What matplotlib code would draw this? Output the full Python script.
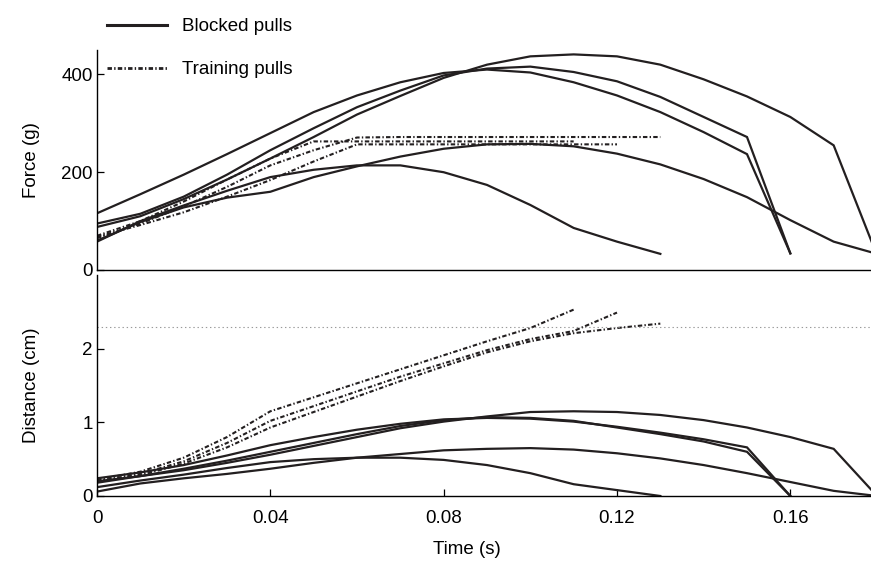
import numpy as np
import matplotlib
matplotlib.use("Agg")
import matplotlib.pyplot as plt
from matplotlib.lines import Line2D

plt.rcParams['font.family'] = ['Liberation Sans', 'DejaVu Sans']
plt.rcParams['lines.scale_dashes'] = False

# time base (s), samples every 10 ms
time = [0.00, 0.01, 0.02, 0.03, 0.04, 0.05, 0.06, 0.07, 0.08, 0.09,
        0.10, 0.11, 0.12, 0.13, 0.14, 0.15, 0.16, 0.17, 0.18]

# force (g) - blocked pulls
force_blocked_a = [88, 110, 145, 185, 228, 272, 318, 356, 393, 420, 437, 441, 437, 420, 390, 355, 313, 255, 30]
force_blocked_b = [95, 115, 150, 195, 245, 290, 333, 367, 398, 412, 416, 405, 386, 354, 313, 272, 34]
force_blocked_c = [116, 155, 195, 237, 280, 323, 357, 384, 403, 410, 404, 384, 357, 323, 282, 237, 34]
force_blocked_d = [60, 98, 128, 148, 160, 190, 212, 232, 248, 257, 258, 253, 238, 216, 186, 149, 102, 58, 33]
force_blocked_e = [58, 100, 132, 162, 190, 205, 214, 214, 200, 174, 133, 86, 58, 33]

# force (g) - training pulls
force_train_1 = [65, 95, 130, 170, 214, 245, 271, 272, 272, 272, 272, 272, 272, 272]
force_train_2 = [70, 100, 140, 185, 228, 263, 263, 263, 263, 263, 263, 263]
force_train_3 = [68, 92, 118, 150, 184, 222, 257, 257, 257, 257, 257, 257, 257]

# distance (cm) - blocked pulls
dist_blocked_a = [0.18, 0.27, 0.35, 0.45, 0.56, 0.68, 0.80, 0.92, 1.01, 1.08, 1.14, 1.15, 1.14, 1.10, 1.03, 0.93, 0.80, 0.64, 0.0]
dist_blocked_b = [0.20, 0.27, 0.37, 0.48, 0.60, 0.72, 0.84, 0.95, 1.03, 1.07, 1.06, 1.02, 0.93, 0.84, 0.74, 0.60, 0.0]
dist_blocked_c = [0.24, 0.32, 0.42, 0.55, 0.69, 0.80, 0.90, 0.98, 1.04, 1.06, 1.05, 1.01, 0.94, 0.86, 0.77, 0.66, 0.0]
dist_blocked_d = [0.06, 0.17, 0.24, 0.30, 0.37, 0.45, 0.52, 0.57, 0.62, 0.64, 0.65, 0.63, 0.58, 0.51, 0.42, 0.31, 0.19, 0.07, 0.0]
dist_blocked_e = [0.12, 0.21, 0.29, 0.38, 0.46, 0.50, 0.52, 0.52, 0.49, 0.42, 0.31, 0.16, 0.08, 0.0]

# distance (cm) - training pulls
dist_train_1 = [0.20, 0.28, 0.44, 0.66, 0.93, 1.14, 1.35, 1.56, 1.76, 1.95, 2.10, 2.21, 2.28, 2.34]
dist_train_2 = [0.22, 0.33, 0.52, 0.80, 1.15, 1.34, 1.53, 1.72, 1.91, 2.10, 2.28, 2.53]
dist_train_3 = [0.20, 0.30, 0.47, 0.72, 1.02, 1.22, 1.42, 1.62, 1.80, 1.98, 2.13, 2.24, 2.49]

target_dist = 2.3

force_blocked = [force_blocked_a, force_blocked_b, force_blocked_c, force_blocked_d, force_blocked_e]
force_train = [force_train_1, force_train_2, force_train_3]
dist_blocked = [dist_blocked_a, dist_blocked_b, dist_blocked_c, dist_blocked_d, dist_blocked_e]
dist_train = [dist_train_1, dist_train_2, dist_train_3]

ink = '#231f20'
dashdot = (3.2, 1.6, 1.0, 1.6)
fs = 13.5

fig = plt.figure(figsize=(8.71, 5.61), dpi=100)
W, H = 871.0, 561.0
ax1 = fig.add_axes([97 / W, (H - 270) / H, 780 / W, 220 / H])
ax2 = fig.add_axes([97 / W, (H - 496) / H, 780 / W, 221 / H])

for f in force_blocked:
    ax1.plot(time[:len(f)], f, color=ink, lw=1.6, solid_joinstyle='miter')
for f in force_train:
    ax1.plot(time[:len(f)], f, color=ink, lw=1.5, dashes=dashdot)
for d in dist_blocked:
    ax2.plot(time[:len(d)], d, color=ink, lw=1.6, solid_joinstyle='miter')
for d in dist_train:
    ax2.plot(time[:len(d)], d, color=ink, lw=1.5, dashes=dashdot)
ax2.axhline(target_dist, color='#9a9a9a', lw=0.8, ls=(0, (1, 2)))

for ax in (ax1, ax2):
    ax.set_xlim(0, 0.18)
    ax.spines['top'].set_visible(False)
    ax.spines['right'].set_visible(False)
    ax.spines['left'].set_linewidth(1.0)
    ax.spines['bottom'].set_linewidth(1.0)
    ax.tick_params(direction='in', length=5, width=0.9, labelsize=fs)
    ax.tick_params(axis='y', pad=3)
    ax.tick_params(axis='x', pad=10)

ax1.set_ylim(0, 450)
ax1.set_yticks([0, 200, 400])
ax1.set_xticks([])
ax1.set_ylabel('Force (g)', fontsize=fs)

ax2.set_ylim(0, 3)
ax2.set_yticks([0, 1, 2])
ax2.set_xticks([0, 0.04, 0.08, 0.12, 0.16])
ax2.set_xticklabels(['0', '0.04', '0.08', '0.12', '0.16'])
ax2.set_xlabel('Time (s)', fontsize=fs)
ax2.set_ylabel('Distance (cm)', fontsize=fs)

ax1.yaxis.set_label_coords(-0.073, 0.5)
ax2.yaxis.set_label_coords(-0.073, 0.5)
ax2.xaxis.set_label_coords(0.474, -0.203)

handles = [Line2D([], [], color=ink, lw=2.2),
           Line2D([], [], color=ink, lw=2.0, dashes=dashdot)]
fig.legend(handles, ['Blocked pulls', 'Training pulls'], loc='upper left',
           bbox_to_anchor=(107 / W, 1 - 18 / H), frameon=False, fontsize=fs,
           handlelength=3.2, handletextpad=0.8, labelspacing=1.4,
           borderpad=0, borderaxespad=0)

fig.savefig('out.png', dpi=100)
